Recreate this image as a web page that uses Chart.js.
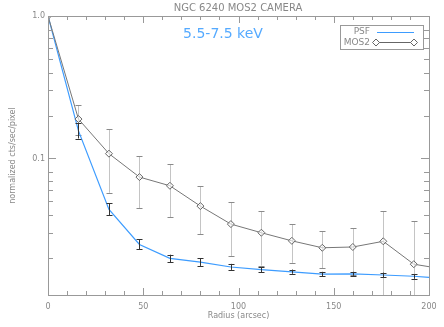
<!DOCTYPE html>
<html>
<head>
<meta charset="utf-8">
<script src="https://cdn.jsdelivr.net/npm/chart.js@4.4.1/dist/chart.umd.min.js"></script>
<style>
  html, body { margin: 0; padding: 0; background: #fff; }
  #wrap { width: 444px; height: 327px; }
</style>
</head>
<body>
<div id="wrap"><canvas id="psfChart"></canvas></div>
<script>
// radial profile, NGC 6240 MOS2, 5.5-7.5 keV
const radius = [0, 16, 32, 48, 64, 80, 96, 112, 128, 144, 160, 176, 192, 208];
const psf    = [1.0, 0.156, 0.0439, 0.0249, 0.0199, 0.0187, 0.0173, 0.0166, 0.0160, 0.0154, 0.0155, 0.0152, 0.0149, 0.0144];
const psfLo  = [null, 0.138, 0.0398, 0.0230, 0.0187, 0.0176, 0.0165, 0.0159, 0.0155, 0.0149, 0.0150, 0.0146, 0.0143, null];
const psfHi  = [null, 0.177, 0.0483, 0.0270, 0.0211, 0.0199, 0.0182, 0.0172, 0.0166, 0.0160, 0.0160, 0.0158, 0.0154, null];
const mos2   = [1.0, 0.189, 0.108, 0.074, 0.0643, 0.0463, 0.0346, 0.0301, 0.0264, 0.0236, 0.0239, 0.0262, 0.0181, 0.0167];
const mos2Lo = [null, 0.145, 0.0574, 0.0446, 0.0386, 0.0295, 0.0207, 0.0177, 0.0185, 0.0169, 0.0152, 0.008, 0.008, null];
const mos2Hi = [null, 0.237, 0.160, 0.104, 0.0912, 0.0636, 0.0491, 0.0427, 0.0344, 0.0308, 0.0323, 0.0425, 0.0363, null];
const yTicks = [0.02, 0.03, 0.04, 0.05, 0.06, 0.07, 0.08, 0.1, 0.2, 0.3, 0.4, 0.5, 0.6, 0.7, 0.8, 1.0];
const yLabels = { 0.1: '0.1', 1: '1.0' };

const axisGray = '#999';
const textGray = '#888';
const psfBlue = '#3d9cff';

function drawBars(chart, lo, hi, color, capColor) {
  const { ctx, chartArea: a, scales: { x, y } } = chart;
  ctx.save();
  ctx.beginPath();
  ctx.rect(a.left, a.top, a.right - a.left, a.bottom - a.top);
  ctx.clip();
  ctx.lineWidth = 1;
  radius.forEach((r, i) => {
    if (lo[i] == null) return;
    const px = Math.round(x.getPixelForValue(r)) + 0.5;
    const y0 = y.getPixelForValue(lo[i]);
    const y1 = y.getPixelForValue(hi[i]);
    ctx.strokeStyle = color;
    ctx.beginPath(); ctx.moveTo(px, y0); ctx.lineTo(px, y1); ctx.stroke();
    ctx.strokeStyle = capColor;
    ctx.beginPath();
    ctx.moveTo(px - 3, Math.round(y0) + 0.5); ctx.lineTo(px + 3, Math.round(y0) + 0.5);
    ctx.moveTo(px - 3, Math.round(y1) + 0.5); ctx.lineTo(px + 3, Math.round(y1) + 0.5);
    ctx.stroke();
  });
  ctx.restore();
}

const errorBars = {
  id: 'errorBars',
  beforeDatasetsDraw(chart) { drawBars(chart, mos2Lo, mos2Hi, '#c4c4c4', '#8a8a8a'); },
  afterDatasetsDraw(chart) { drawBars(chart, psfLo, psfHi, '#333', '#333'); }
};

// IDL style frame: box with inward ticks on all four sides
const frame = {
  id: 'frame',
  afterDraw(chart) {
    const { ctx, chartArea: a, scales: { x, y } } = chart;
    ctx.save();
    ctx.strokeStyle = axisGray;
    ctx.lineWidth = 1;
    ctx.strokeRect(Math.round(a.left) + 0.5, Math.round(a.top) + 0.5,
      Math.round(a.right - a.left), Math.round(a.bottom - a.top));
    ctx.beginPath();
    x.ticks.forEach(t => {
      const px = Math.round(x.getPixelForValue(t.value)) + 0.5;
      const len = t.value % 50 === 0 ? 7 : 4;
      ctx.moveTo(px, a.bottom); ctx.lineTo(px, a.bottom - len);
      ctx.moveTo(px, a.top); ctx.lineTo(px, a.top + len);
    });
    y.ticks.forEach(t => {
      const py = Math.round(y.getPixelForValue(t.value)) + 0.5;
      const len = yLabels[t.value] ? 8 : 5;
      ctx.moveTo(a.left, py); ctx.lineTo(a.left + len, py);
      ctx.moveTo(a.right, py); ctx.lineTo(a.right - len, py);
    });
    ctx.stroke();

    // title and band label
    ctx.textAlign = 'center';
    ctx.textBaseline = 'middle';
    ctx.fillStyle = textGray;
    ctx.font = '10px "DejaVu Sans"';
    ctx.fillText('NGC 6240 MOS2 CAMERA', 238, 8);
    ctx.fillStyle = '#55aaff';
    ctx.font = '14px "DejaVu Sans"';
    ctx.fillText('5.5-7.5 keV', 223, 34);

    // legend
    ctx.strokeStyle = axisGray;
    ctx.strokeRect(340.5, 25.5, 83, 24);
    ctx.fillStyle = textGray;
    ctx.font = '9px "DejaVu Sans"';
    ctx.textAlign = 'right';
    ctx.fillText('PSF', 370, 32);
    ctx.fillText('MOS2', 370, 42.5);
    ctx.strokeStyle = psfBlue;
    ctx.lineWidth = 1.2;
    ctx.beginPath(); ctx.moveTo(377, 32.5); ctx.lineTo(414, 32.5); ctx.stroke();
    ctx.strokeStyle = '#666';
    ctx.lineWidth = 1;
    ctx.beginPath(); ctx.moveTo(376, 42.5); ctx.lineTo(414, 42.5); ctx.stroke();
    [376, 414].forEach(cx => {
      ctx.fillStyle = '#fff';
      ctx.beginPath();
      ctx.moveTo(cx, 39); ctx.lineTo(cx + 3.5, 42.5); ctx.lineTo(cx, 46); ctx.lineTo(cx - 3.5, 42.5);
      ctx.closePath(); ctx.fill(); ctx.stroke();
    });
    ctx.restore();
  }
};

const ctx = document.getElementById('psfChart').getContext('2d');
const psfChart = new Chart(ctx, {
  type: 'line',
  data: {
    datasets: [
      {
        label: 'MOS2',
        data: radius.map((r, i) => ({ x: r, y: mos2[i] })),
        borderColor: '#777',
        borderWidth: 1,
        pointStyle: 'rectRot',
        pointRadius: 3.5,
        pointBackgroundColor: 'rgba(255,255,255,0.6)',
        pointBorderColor: '#666',
        pointBorderWidth: 1,
        tension: 0
      },
      {
        label: 'PSF',
        data: radius.map((r, i) => ({ x: r, y: psf[i] })),
        borderColor: psfBlue,
        borderWidth: 1.2,
        pointRadius: 0,
        tension: 0
      }
    ]
  },
  options: {
    responsive: true,
    maintainAspectRatio: false,
    animation: false,
    layout: { padding: { top: 16, right: 15, left: 0, bottom: 0 } },
    plugins: {
      legend: { display: false },
      tooltip: { enabled: false }
    },
    scales: {
      x: {
        type: 'linear',
        min: 0,
        max: 200,
        grid: { display: false, drawTicks: false },
        border: { display: false },
        afterFit: (scale) => { scale.height = 32; },
        ticks: {
          stepSize: 10,
          autoSkip: false,
          maxRotation: 0,
          padding: 7,
          color: textGray,
          font: { family: 'DejaVu Sans', size: 8 },
          callback: (v) => (v % 50 === 0 ? String(v) : '')
        },
        title: {
          display: true,
          text: 'Radius (arcsec)',
          color: textGray,
          font: { family: 'DejaVu Sans', size: 8 },
          padding: { top: 0, bottom: 6 }
        }
      },
      y: {
        type: 'logarithmic',
        min: 0.011,
        max: 1.0,
        grid: { display: false, drawTicks: false },
        border: { display: false },
        afterFit: (scale) => { scale.width = 48; },
        afterBuildTicks: (scale) => { scale.ticks = yTicks.map(v => ({ value: v })); },
        ticks: {
          autoSkip: false,
          padding: 3,
          color: textGray,
          font: { family: 'DejaVu Sans', size: 8 },
          callback: (v) => yLabels[v] || ''
        },
        title: {
          display: true,
          text: 'normalized cts/sec/pixel',
          color: textGray,
          font: { family: 'DejaVu Sans', size: 8 },
          padding: { top: 8, bottom: 0 }
        }
      }
    }
  },
  plugins: [errorBars, frame]
});
</script>
</body>
</html>
